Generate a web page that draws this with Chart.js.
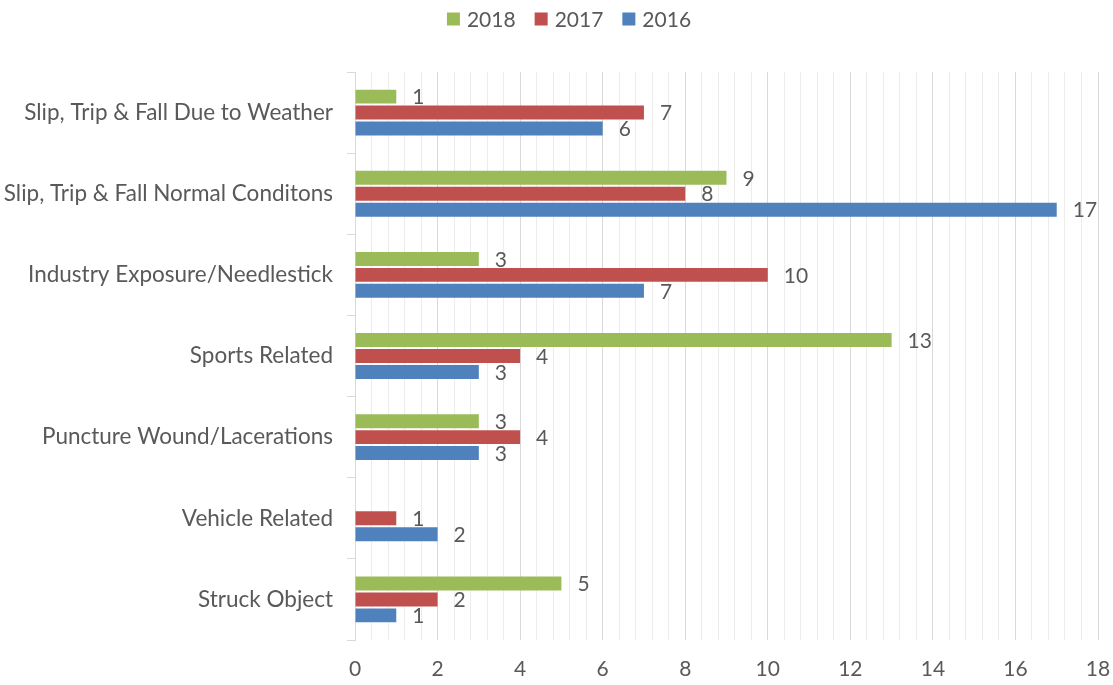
<!DOCTYPE html>
<html>
<head>
<meta charset="utf-8">
<script src="https://cdn.jsdelivr.net/npm/chart.js@4.4.0/dist/chart.umd.min.js"></script>
<style>
html,body{margin:0;padding:0;background:#fff;}
#wrap{width:1113px;height:685px;position:relative;}
</style>
</head>
<body>
<div id="wrap"><canvas id="c" width="1113" height="685"></canvas></div>
<script>
const categories = [
  "Slip, Trip & Fall Due to Weather",
  "Slip, Trip & Fall Normal Conditons",
  "Industry Exposure/Needlestick",
  "Sports Related",
  "Puncture Wound/Lacerations",
  "Vehicle Related",
  "Struck Object"
];
const seriesNames = ["2018", "2017", "2016"];
const values2018 = [1, 9, 3, 13, 3, null, 5];
const values2017 = [7, 8, 10, 4, 4, 1, 2];
const values2016 = [6, 17, 7, 3, 3, 2, 1];
const xMax = 18;
const xMajorStep = 2;
const xMinorStep = 0.4;

const colors = ["#9BBB59", "#C0504D", "#4F81BD"];
const textColor = "#595959";
const FONT = "Lato";
const NUM_SIZE = 21;
const CAT_SIZE = 22.5;

const labelPlugin = {
  id: "barLabels",
  afterDatasetsDraw(chart) {
    const ctx = chart.ctx;
    ctx.save();
    ctx.font = NUM_SIZE + "px " + FONT;
    ctx.fillStyle = textColor;
    ctx.textAlign = "left";
    ctx.textBaseline = "middle";
    chart.data.datasets.forEach((ds, di) => {
      const meta = chart.getDatasetMeta(di);
      meta.data.forEach((el, i) => {
        const v = ds.data[i];
        if (v === null || v === undefined) return;
        ctx.fillText(String(v), el.x + 16, el.y + 1);
      });
    });
    ctx.restore();
  }
};

const legendPlugin = {
  id: "customLegend",
  afterDraw(chart) {
    const ctx = chart.ctx;
    ctx.save();
    ctx.font = NUM_SIZE + "px " + FONT;
    ctx.textBaseline = "middle";
    ctx.textAlign = "left";
    const box = 13, gapText = 7, gapItem = 19, cy = 19;
    const items = chart.data.datasets.map(d => ({ t: d.label, c: d.backgroundColor, w: ctx.measureText(d.label).width }));
    let total = 0;
    items.forEach((it, i) => { total += box + gapText + it.w + (i < items.length - 1 ? gapItem : 0); });
    let x = 569 - total / 2;
    items.forEach(it => {
      ctx.fillStyle = it.c;
      ctx.fillRect(x, cy - box / 2, box, box);
      ctx.fillStyle = textColor;
      ctx.fillText(it.t, x + box + gapText, cy + 1);
      x += box + gapText + it.w + gapItem;
    });
    ctx.restore();
  }
};

function isMajor(v) {
  const r = v / xMajorStep;
  return Math.abs(r - Math.round(r)) < 1e-6;
}

new Chart(document.getElementById("c"), {
  type: "bar",
  data: {
    labels: categories,
    datasets: [
      { label: seriesNames[0], data: values2018, backgroundColor: colors[0] },
      { label: seriesNames[1], data: values2017, backgroundColor: colors[1] },
      { label: seriesNames[2], data: values2016, backgroundColor: colors[2] }
    ]
  },
  options: {
    indexAxis: "y",
    responsive: false,
    animation: false,
    events: [],
    layout: { padding: { left: 0, right: 15, top: 72, bottom: 0 } },
    datasets: { bar: { categoryPercentage: 0.59, barPercentage: 0.875 } },
    plugins: {
      legend: { display: false },
      tooltip: { enabled: false }
    },
    scales: {
      x: {
        min: 0,
        max: xMax,
        afterFit(scale) {
          scale.height = 45;
          scale.paddingLeft = 0;
          scale.paddingRight = 0;
        },
        border: { display: false },
        grid: {
          color: (c) => isMajor(c.tick.value) ? "#d9d9d9" : "#ececec",
          lineWidth: 1,
          drawTicks: false
        },
        ticks: {
          stepSize: xMinorStep,
          autoSkip: false,
          maxRotation: 0,
          padding: 17,
          color: textColor,
          font: { family: FONT, size: NUM_SIZE },
          callback: (v) => isMajor(v) ? String(Math.round(v)) : ""
        }
      },
      y: {
        afterFit(scale) { scale.width = 355; },
        border: { display: true, color: "#d9d9d9" },
        grid: {
          drawOnChartArea: false,
          drawTicks: true,
          tickLength: 8,
          color: "#d9d9d9"
        },
        ticks: {
          color: textColor,
          padding: 14,
          font: { family: FONT, size: CAT_SIZE }
        }
      }
    }
  },
  plugins: [labelPlugin, legendPlugin]
});
</script>
</body>
</html>
